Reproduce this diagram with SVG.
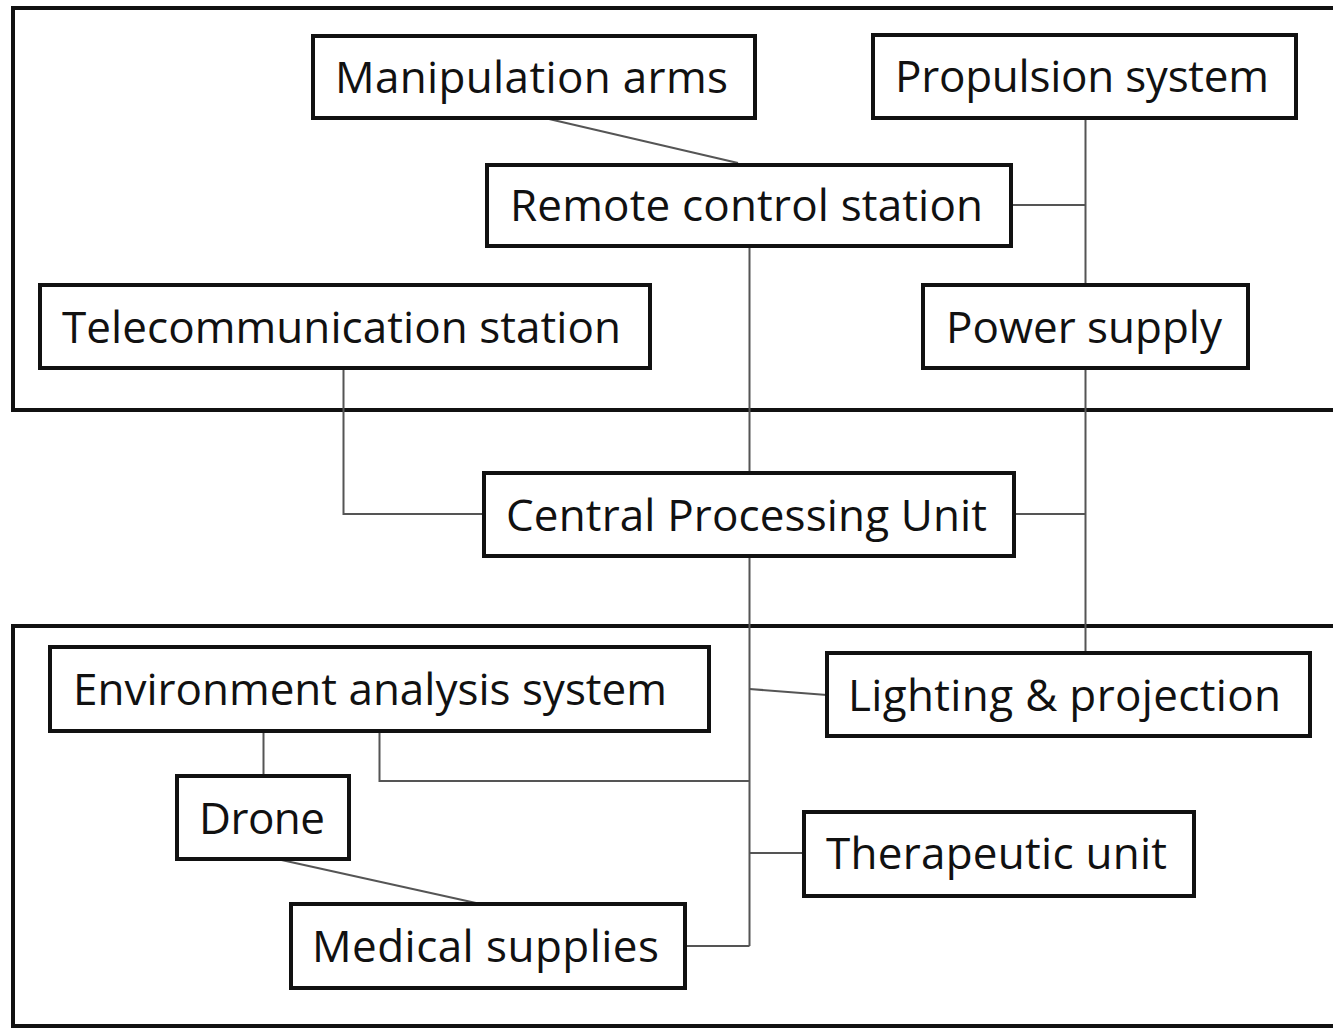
<svg xmlns="http://www.w3.org/2000/svg" width="1333" height="1030" viewBox="0 0 1333 1030">
<style>
.frame{fill:none;stroke:#111;stroke-width:4}
.box{fill:#fff;stroke:#111;stroke-width:4}
.lbl{font-family:"Open Sans","Liberation Sans",sans-serif;font-size:44px;fill:#111}
.conn{fill:none;stroke:#555;stroke-width:2}
</style>
<rect width="1333" height="1030" fill="#fff"/>
<rect class="frame" x="13" y="8" width="1340" height="402"/>
<rect class="frame" x="13" y="626" width="1340" height="400"/>
<g id="connectors">
<line class="conn" x1="549" y1="119" x2="738" y2="163"/>
<polyline class="conn" points="1011,205 1085.5,205"/>
<line class="conn" x1="1085.5" y1="118" x2="1085.5" y2="654"/>
<polyline class="conn" points="1014,514 1085.5,514"/>
<line class="conn" x1="749.5" y1="246" x2="749.5" y2="946"/>
<polyline class="conn" points="343.5,368 343.5,514 484,514"/>
<line class="conn" x1="749.5" y1="689" x2="827" y2="695"/>
<line class="conn" x1="263.5" y1="731" x2="263.5" y2="776"/>
<polyline class="conn" points="379.5,731 379.5,781 749.5,781"/>
<line class="conn" x1="749.5" y1="853" x2="804" y2="853"/>
<line class="conn" x1="685" y1="946" x2="749.5" y2="946"/>
<line class="conn" x1="277" y1="859" x2="476" y2="903"/>
</g>
<g id="manipulation-arms"><rect class="box" x="313" y="36" width="442" height="82"/><text class="lbl" x="335" y="93" textLength="393">Manipulation arms</text></g>
<g id="propulsion-system"><rect class="box" x="873" y="35" width="423" height="83"/><text class="lbl" x="895" y="92" textLength="374">Propulsion system</text></g>
<g id="remote-control-station"><rect class="box" x="487" y="165" width="524" height="81"/><text class="lbl" x="510" y="221" textLength="473">Remote control station</text></g>
<g id="telecommunication-station"><rect class="box" x="40" y="285" width="610" height="83"/><text class="lbl" x="62" y="343" textLength="559">Telecommunication station</text></g>
<g id="power-supply"><rect class="box" x="923" y="285" width="325" height="83"/><text class="lbl" x="946" y="343" textLength="276">Power supply</text></g>
<g id="central-processing-unit"><rect class="box" x="484" y="473" width="530" height="83"/><text class="lbl" x="506" y="531" textLength="481">Central Processing Unit</text></g>
<g id="environment-analysis-system"><rect class="box" x="50" y="647" width="659" height="84"/><text class="lbl" x="73" y="705" textLength="594">Environment analysis system</text></g>
<g id="lighting-projection"><rect class="box" x="827" y="653" width="483" height="83"/><text class="lbl" x="848" y="711" textLength="433">Lighting &amp; projection</text></g>
<g id="drone"><rect class="box" x="177" y="776" width="172" height="83"/><text class="lbl" x="199" y="834" textLength="126">Drone</text></g>
<g id="therapeutic-unit"><rect class="box" x="804" y="812" width="390" height="84"/><text class="lbl" x="826" y="869" textLength="341">Therapeutic unit</text></g>
<g id="medical-supplies"><rect class="box" x="291" y="904" width="394" height="84"/><text class="lbl" x="312" y="962" textLength="347">Medical supplies</text></g>
</svg>
